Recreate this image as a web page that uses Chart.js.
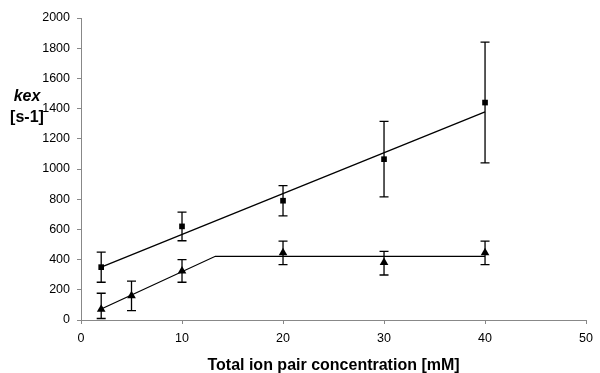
<!DOCTYPE html>
<html>
<head>
<meta charset="utf-8">
<script src="https://cdn.jsdelivr.net/npm/chart.js@4.4.0/dist/chart.umd.min.js"></script>
<style>
    html, body { margin: 0; padding: 0; background: #fff; }
    #wrap { width: 600px; height: 373px; position: relative; }
</style>
</head>
<body>
<div id="wrap"><canvas id="Chart"></canvas></div>
<script>
// squares
const sqX = [2, 10, 20, 30, 40];
const sqY = [350, 620, 790, 1065, 1440];
const sqErr = [100, 95, 100, 250, 400];
const sqFitX = [2, 40];
const sqFitY = [350, 1378];

// triangles
const triX = [2, 5, 10, 20, 30, 40];
const triY = [72, 160, 325, 445, 380, 445];
const triErrPlus = [105, 98, 75, 78, 75, 78];
const triErrMinus = [62, 98, 75, 78, 82, 78];
const triFitX = [2, 13.3, 40];
const triFitY = [73, 422, 422];

const xTitle = 'Total ion pair concentration [mM]';
const yTitleTop = 'kex';
const yTitleBottom = '[s-1]';

const FONT = "'Liberation Sans', Arial, sans-serif";

function toPoints(xs, ys) {
    let pts = [];
    for (let i = 0; i < xs.length; i++) {
        pts.push({x: xs[i], y: ys[i]});
    }
    return pts;
}

const errorBarPlugin = {
    id: 'errorBars',
    beforeDatasetsDraw(chart) {
        const ctx = chart.ctx;
        const xs = chart.scales.x;
        const ys = chart.scales.y;
        const sets = [
            {x: sqX, y: sqY, plus: sqErr, minus: sqErr},
            {x: triX, y: triY, plus: triErrPlus, minus: triErrMinus}
        ];
        ctx.save();
        ctx.strokeStyle = '#000';
        ctx.lineWidth = 1.3;
        const cap = 4.5;
        sets.forEach(s => {
            for (let i = 0; i < s.x.length; i++) {
                const px = xs.getPixelForValue(s.x[i]);
                const top = ys.getPixelForValue(s.y[i] + s.plus[i]);
                const bot = ys.getPixelForValue(s.y[i] - s.minus[i]);
                ctx.beginPath();
                ctx.moveTo(px, top);
                ctx.lineTo(px, bot);
                ctx.moveTo(px - cap, top);
                ctx.lineTo(px + cap, top);
                ctx.moveTo(px - cap, bot);
                ctx.lineTo(px + cap, bot);
                ctx.stroke();
            }
        });
        ctx.restore();
    }
};

const yTitlePlugin = {
    id: 'yTitle',
    afterDraw(chart) {
        const ctx = chart.ctx;
        ctx.save();
        ctx.fillStyle = '#000';
        ctx.textAlign = 'center';
        ctx.textBaseline = 'middle';
        ctx.font = 'italic bold 16px ' + FONT;
        ctx.fillText(yTitleTop, 27, 97);
        ctx.font = 'bold 16px ' + FONT;
        ctx.fillText(yTitleBottom, 27, 118);
        ctx.restore();
    }
};

const axisGrid = {
    drawOnChartArea: false,
    drawTicks: true,
    tickLength: 4,
    color: '#888'
};

let chartElement = document.getElementById('Chart').getContext('2d');
let chart = new Chart(chartElement, {
    type: 'scatter',
    data: {
        datasets: [
            {
                label: 'fit squares',
                data: toPoints(sqFitX, sqFitY),
                showLine: true,
                borderColor: '#000',
                borderWidth: 1.3,
                pointRadius: 0,
                order: 3
            },
            {
                label: 'fit triangles',
                data: toPoints(triFitX, triFitY),
                showLine: true,
                borderColor: '#000',
                borderWidth: 1.3,
                pointRadius: 0,
                order: 3
            },
            {
                label: 'squares',
                data: toPoints(sqX, sqY),
                pointStyle: 'rect',
                pointRadius: 4,
                backgroundColor: '#000',
                borderColor: '#000',
                borderWidth: 0,
                order: 1
            },
            {
                label: 'triangles',
                data: toPoints(triX, triY),
                pointStyle: 'triangle',
                pointRadius: 5,
                backgroundColor: '#000',
                borderColor: '#000',
                borderWidth: 0,
                order: 1
            }
        ]
    },
    options: {
        animation: false,
        responsive: true,
        maintainAspectRatio: false,
        layout: {
            padding: {top: 18, right: 8, left: 0, bottom: 0}
        },
        plugins: {
            legend: {display: false},
            tooltip: {enabled: false}
        },
        scales: {
            x: {
                type: 'linear',
                min: 0,
                max: 50,
                ticks: {
                    stepSize: 10,
                    color: '#000',
                    padding: 7,
                    font: {family: FONT, size: 12.5},
                    callback: value => String(value)
                },
                grid: axisGrid,
                border: {color: '#888', width: 1},
                title: {
                    display: true,
                    text: xTitle,
                    color: '#000',
                    padding: {top: 0, bottom: -2},
                    font: {family: FONT, size: 16, weight: 'bold'}
                },
                afterFit(scale) { scale.height = 53; }
            },
            y: {
                type: 'linear',
                min: 0,
                max: 2000,
                ticks: {
                    stepSize: 200,
                    color: '#000',
                    padding: 7,
                    font: {family: FONT, size: 12.5},
                    callback: value => String(value)
                },
                grid: axisGrid,
                border: {color: '#888', width: 1},
                afterFit(scale) { scale.width = 81; }
            }
        }
    },
    plugins: [errorBarPlugin, yTitlePlugin]
});
</script>
</body>
</html>
